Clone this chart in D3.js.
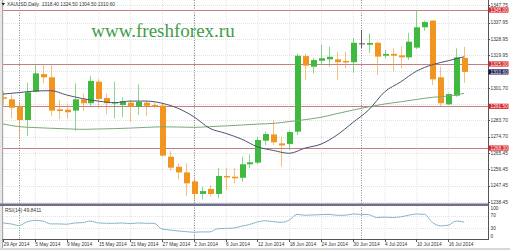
<!DOCTYPE html>
<html>
<head>
<meta charset="utf-8">
<script src="https://cdn.jsdelivr.net/npm/d3@7"></script>
<style>
  body { margin: 0; background: #fff; }
  svg { display: block; font-family: "Liberation Sans", Arial, sans-serif; }
</style>
</head>
<body>
<div id="chart"></div>
<script>
// trading days shown on the chart (2014)
const dates = ['29 Apr','30 Apr','1 May','2 May','5 May','6 May','7 May','8 May','9 May','12 May',
  '13 May','14 May','15 May','16 May','19 May','20 May','21 May','22 May','23 May','26 May',
  '27 May','28 May','29 May','30 May','2 Jun','3 Jun','4 Jun','5 Jun','6 Jun','9 Jun',
  '10 Jun','11 Jun','12 Jun','13 Jun','16 Jun','17 Jun','18 Jun','19 Jun','20 Jun','23 Jun',
  '24 Jun','25 Jun','26 Jun','27 Jun','30 Jun','1 Jul','2 Jul','3 Jul','4 Jul','7 Jul',
  '8 Jul','9 Jul','10 Jul','11 Jul','14 Jul','15 Jul','16 Jul','17 Jul','18 Jul'];

const open  = [1296.5,1295.4,1291.3,1283.9,1299.6,1309.4,1307.6,1289.8,1289.6,1289.1,
  1295.4,1293.2,1305.2,1296.1,1293.3,1292.2,1293.5,1291.3,1293.5,1292.2,
  1291.9,1263.5,1257.9,1254.8,1249.8,1242.8,1245.6,1242.8,1252.8,1252.4,
  1251.8,1259.3,1260.2,1272.4,1275.9,1270.9,1270.6,1277.4,1319.4,1313.5,
  1316.8,1317.6,1317.6,1316.7,1316.0,1326.3,1325.7,1326.8,1319.6,1320.6,
  1319.8,1318.7,1324.1,1335.4,1339.1,1307.6,1292.6,1297.4,1318.4];
const high  = [1300.0,1297.8,1294.1,1304.6,1315.0,1314.3,1314.3,1295.0,1293.1,1304.3,
  1298.7,1308.5,1306.5,1298.7,1305.2,1296.5,1295.0,1303.7,1295.0,1293.5,
  1293.2,1266.7,1259.8,1259.8,1251.5,1246.8,1247.8,1257.1,1257.1,1257.1,
  1263.5,1264.8,1274.6,1277.4,1283.9,1274.6,1277.9,1320.6,1320.6,1318.2,
  1325.6,1324.6,1321.8,1321.8,1329.3,1333.9,1332.0,1327.4,1322.8,1323.7,
  1324.6,1332.4,1345.0,1339.1,1339.4,1313.5,1298.7,1323.7,1324.5];
const low   = [1292.0,1284.8,1273.2,1275.0,1299.3,1304.3,1286.1,1284.4,1284.8,1277.9,
  1288.9,1291.7,1290.4,1287.1,1284.8,1285.4,1282.8,1286.7,1286.1,1290.4,
  1263.5,1255.7,1250.9,1241.7,1239.4,1239.8,1241.3,1240.4,1245.0,1248.7,
  1249.6,1257.1,1259.4,1270.0,1270.0,1258.0,1267.2,1275.6,1306.1,1309.8,
  1314.4,1313.5,1306.1,1312.6,1310.2,1323.7,1321.0,1308.9,1318.2,1310.7,
  1312.6,1317.2,1323.3,1333.3,1303.3,1291.7,1292.2,1296.8,1304.5];
const close = [1296.0,1290.7,1283.9,1299.3,1309.8,1307.6,1289.1,1288.9,1288.2,1295.4,
  1293.2,1305.6,1295.6,1293.2,1293.9,1294.4,1291.3,1293.9,1291.8,1292.0,
  1264.1,1257.4,1254.8,1248.7,1242.8,1244.4,1242.8,1252.8,1252.2,1251.5,
  1259.3,1260.4,1272.8,1276.1,1271.5,1269.8,1277.2,1319.6,1314.1,1317.2,
  1318.2,1319.0,1316.0,1316.0,1326.8,1326.2,1326.7,1319.1,1320.6,1319.6,
  1318.7,1327.4,1335.4,1338.3,1306.5,1293.2,1298.3,1318.7,1310.6];

// moving averages, at every second bar
const maIdx   = [0,2,4,6,8,10,12,14,16,18,20,22,24,26,28,30,32,34,36,38,40,42,44,46,48,50,52,54,56,58];
const maFast  = [1298.3,1299.1,1300.0,1300.2,1297.8,1295.8,1294.4,1293.5,1294.4,1294.4,
  1293.2,1290.4,1285.7,1279.3,1276.5,1273.3,1269.0,1267.0,1265.4,1268.3,
  1270.5,1275.5,1282.5,1289.5,1299.5,1305.0,1311.0,1314.6,1316.8,1319.0];
const maSlow  = [1281.7,1280.2,1279.7,1279.3,1279.0,1278.7,1278.9,1279.1,1279.4,1279.8,
  1280.1,1280.0,1279.8,1280.2,1280.6,1281.1,1281.6,1282.0,1283.0,1284.1,
  1285.4,1287.4,1289.4,1291.2,1292.8,1294.0,1295.3,1296.5,1297.2,1298.7];

// RSI(14), one value per bar
const rsi = [47,44,39,50,55,53,44,44,43,47,48,53,47,46,46,47,45,47,46,46,
  28,25,22,20,18,19,19,29,30,31,37,42,50,54,51,49,56,74,71,72,
  73,74,71,71,75,74,73,64,65,64,66,71,75,74,49,38,40,53,49.8411];

const levels = [1345.00, 1315.00, 1291.50, 1268.30];
const priceTicks = [1347.75, 1337.95, 1328.95, 1319.95, 1301.70, 1283.70, 1274.70, 1265.45, 1256.45, 1247.45, 1238.45];
const rsiTicks = [100, 70, 30, 0];
const bid = 1310.60;
const title = 'XAUUSD,Daily  1318.40 1324.50 1304.50 1310.60';

const W = 510, H = 250;
const PLOT_R = 488;
const BULL = '#3fba3f', BEAR = '#f29420', DOJI = '#555';

const svg = d3.select('#chart').append('svg')
  .attr('width', W).attr('height', H);

const x = d3.scaleLinear().domain([0, dates.length - 1]).range([3, 464.1]);
const y = d3.scaleLinear().domain([1238.45, 1347.75]).range([201.8, 5.05]);
const yR = d3.scaleLinear().domain([0, 100]).range([238, 206]);

// clips
const defs = svg.append('defs');
defs.append('clipPath').attr('id', 'main').append('rect')
  .attr('x', 3).attr('y', 0).attr('width', PLOT_R - 3).attr('height', 203.5);
defs.append('clipPath').attr('id', 'sub').append('rect')
  .attr('x', 3).attr('y', 206).attr('width', PLOT_R - 3).attr('height', 33);

// left frame strip
svg.append('rect').attr('x', 0).attr('y', 0).attr('width', 2.5).attr('height', H).attr('fill', '#e8e8e8');
svg.append('line').attr('x1', 2.5).attr('x2', 2.5).attr('y1', 0).attr('y2', 248)
  .attr('stroke', '#a8a8a8');

const tickIdx = d3.range(0, dates.length, 4);
const monthIdx = dates.map((d, i) => i).filter(i => i > 0 && dates[i].split(' ')[1] !== dates[i - 1].split(' ')[1]);

// grid
const grid = svg.append('g').attr('stroke', '#e2e2e2').attr('stroke-dasharray', '1,1');
grid.selectAll('.gv').data(tickIdx).join('line')
  .attr('x1', d => x(d) + 0.5).attr('x2', d => x(d) + 0.5)
  .attr('y1', 0).attr('y2', 239);
grid.selectAll('.gh').data(priceTicks.concat([1310.95, 1292.95])).join('line')
  .attr('x1', 3).attr('x2', PLOT_R)
  .attr('y1', d => Math.round(y(d)) + 0.5).attr('y2', d => Math.round(y(d)) + 0.5);
grid.selectAll('.gr').data([70, 30]).join('line')
  .attr('x1', 3).attr('x2', PLOT_R)
  .attr('y1', d => Math.round(yR(d)) + 0.5).attr('y2', d => Math.round(yR(d)) + 0.5);

// month separators
svg.append('g').selectAll('line').data(monthIdx).join('line')
  .attr('x1', d => Math.round(x(d)) + 0.5).attr('x2', d => Math.round(x(d)) + 0.5)
  .attr('y1', 0).attr('y2', 239)
  .attr('stroke', '#8a8a8a').attr('stroke-dasharray', '1,1.5');

// horizontal levels
svg.append('g').selectAll('line').data(levels).join('line')
  .attr('x1', 3).attr('x2', PLOT_R)
  .attr('y1', d => Math.round(y(d)) + 0.5).attr('y2', d => Math.round(y(d)) + 0.5)
  .attr('stroke', '#c48080').attr('stroke-width', 1);

// watermark
svg.append('text')
  .attr('x', 163).attr('y', 37)
  .attr('text-anchor', 'middle')
  .attr('font-family', '"Liberation Serif", "Times New Roman", serif')
  .attr('font-size', 19)
  .attr('fill', '#3f9d4a')
  .text('www.freshforex.ru');

// candles
const main = svg.append('g').attr('clip-path', 'url(#main)');
const bars = d3.range(dates.length);
const colorOf = i => Math.abs(open[i] - close[i]) < 0.15 ? DOJI : (close[i] > open[i] ? BULL : BEAR);

main.selectAll('.wick').data(bars).join('line')
  .attr('x1', i => Math.round(x(i)) + 0.5).attr('x2', i => Math.round(x(i)) + 0.5)
  .attr('y1', i => y(high[i])).attr('y2', i => y(low[i]))
  .attr('stroke', colorOf).attr('stroke-opacity', i => colorOf(i) === DOJI ? 0.9 : 0.6);

main.selectAll('.body').data(bars.filter(i => colorOf(i) !== DOJI)).join('rect')
  .attr('x', i => Math.round(x(i)) - 2)
  .attr('width', 6)
  .attr('y', i => y(Math.max(open[i], close[i])))
  .attr('height', i => Math.max(1.5, Math.abs(y(open[i]) - y(close[i]))))
  .attr('fill', colorOf);

main.selectAll('.doji').data(bars.filter(i => colorOf(i) === DOJI)).join('line')
  .attr('x1', i => Math.round(x(i)) - 2).attr('x2', i => Math.round(x(i)) + 4)
  .attr('y1', i => y(close[i])).attr('y2', i => y(close[i]))
  .attr('stroke', DOJI);

// moving averages
const maLine = vals => d3.line()
  .x((d, k) => x(maIdx[k]))
  .y(d => y(d))
  .curve(d3.curveMonotoneX)(vals);
main.append('path').attr('d', maLine(maSlow))
  .attr('fill', 'none').attr('stroke', '#79a879').attr('stroke-width', 1);
main.append('path').attr('d', maLine(maFast))
  .attr('fill', 'none').attr('stroke', '#4e5270').attr('stroke-width', 1);

// separator between main and RSI window
svg.append('rect').attr('x', 0).attr('y', 203.5).attr('width', PLOT_R).attr('height', 2.5)
  .attr('fill', '#6f6f8e');

// RSI
const sub = svg.append('g').attr('clip-path', 'url(#sub)');
sub.append('path')
  .attr('d', d3.line().x((d, i) => x(i)).y(d => yR(d)).curve(d3.curveMonotoneX)(rsi))
  .attr('fill', 'none').attr('stroke', '#86b6c8').attr('stroke-width', 1);
svg.append('text').attr('x', 5).attr('y', 212)
  .attr('font-size', 5).attr('fill', '#333')
  .text('RSI(14) ' + rsi[rsi.length - 1].toFixed(4));

// axes frames
svg.append('line').attr('x1', PLOT_R + 0.5).attr('x2', PLOT_R + 0.5).attr('y1', 0).attr('y2', 240)
  .attr('stroke', '#555');
svg.append('line').attr('x1', 2.5).attr('x2', PLOT_R + 0.5).attr('y1', 239.5).attr('y2', 239.5)
  .attr('stroke', '#555');

// price axis labels
const pAxis = svg.append('g').attr('font-size', 4.8).attr('fill', '#333');
pAxis.selectAll('text').data(priceTicks).join('text')
  .attr('x', 490.5).attr('y', d => y(d) + 1.8)
  .text(d => d.toFixed(2));
pAxis.selectAll('.tk').data(priceTicks).join('line')
  .attr('x1', PLOT_R).attr('x2', PLOT_R + 2)
  .attr('y1', d => Math.round(y(d)) + 0.5).attr('y2', d => Math.round(y(d)) + 0.5)
  .attr('stroke', '#555');

// level boxes
const boxes = svg.append('g');
const boxData = levels.map(v => ({ v, fill: '#d7262b' })).concat([{ v: bid, fill: '#15154d' }]);
boxes.selectAll('rect').data(boxData).join('rect')
  .attr('x', PLOT_R + 0.5).attr('width', 20)
  .attr('y', d => y(d.v) - 2.6).attr('height', 5.2)
  .attr('fill', d => d.fill);
boxes.selectAll('text').data(boxData).join('text')
  .attr('x', 490.5).attr('y', d => y(d.v) + 1.8)
  .attr('font-size', 4.8).attr('fill', '#fff')
  .text(d => d.v.toFixed(2));

// RSI axis labels
svg.append('g').attr('font-size', 4.8).attr('fill', '#333')
  .selectAll('text').data(rsiTicks).join('text')
  .attr('x', 490.5).attr('y', d => Math.min(237.5, Math.max(209.5, yR(d) + 1.8)))
  .text(d => d);

// date axis
const dAxis = svg.append('g');
dAxis.selectAll('line').data(tickIdx).join('line')
  .attr('x1', d => Math.round(x(d)) + 0.5).attr('x2', d => Math.round(x(d)) + 0.5)
  .attr('y1', 239.5).attr('y2', 242)
  .attr('stroke', '#555');
dAxis.selectAll('text').data(tickIdx).join('text')
  .attr('x', d => x(d) + 0.5).attr('y', 245.8)
  .attr('font-size', 4.8).attr('fill', '#333')
  .text(d => dates[d] + ' 2014');

// bottom strip
svg.append('rect').attr('x', 0).attr('y', 248).attr('width', W).attr('height', 2).attr('fill', '#d8d8d8');

// title
svg.append('path').attr('d', 'M1.5,3 L5,3 L3.25,5.5 Z').attr('fill', '#222');
svg.append('text').attr('x', 7).attr('y', 5.6)
  .attr('font-size', 4.8).attr('fill', '#333')
  .attr('xml:space', 'preserve')
  .text(title);
</script>
</body>
</html>
